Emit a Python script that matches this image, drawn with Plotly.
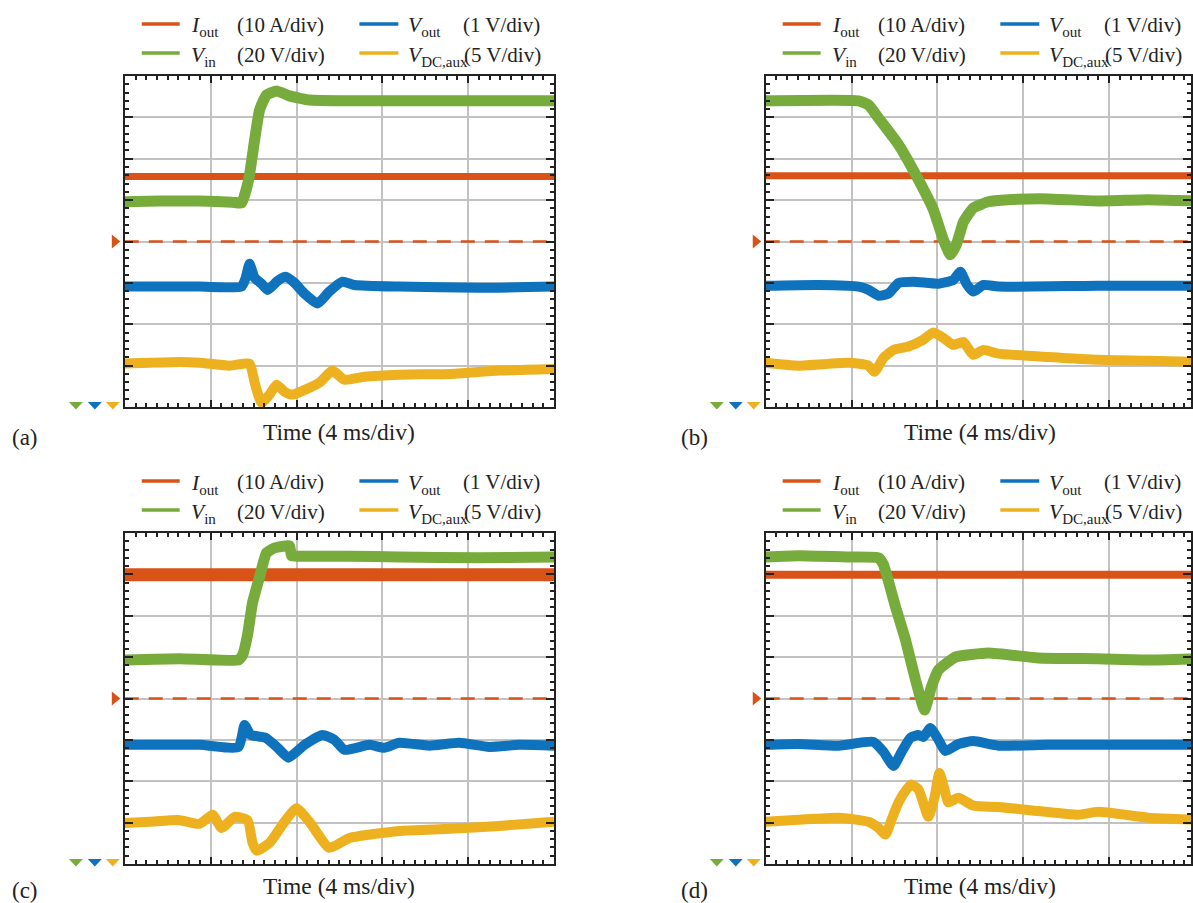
import plotly.graph_objects as go

# ---------------- data (time in ms, amplitude in divisions) ----------------
panels = ["a", "b", "c", "d"]

# Iout (orange) - flat
t_iout = [0, 20]
iout_a = [1.57, 1.57]
iout_b = [1.59, 1.59]
iout_c = [2.99, 2.99]
iout_d = [2.99, 2.99]

# Panel (a)
t_vin_a = [0, 1.6, 3.5, 5.0, 5.44, 5.77, 6.05, 6.28, 6.60, 7.07, 7.67, 8.6, 10.5, 15.1, 20]
vin_a = [0.96, 0.98, 0.98, 0.95, 0.93, 1.49, 2.46, 3.18, 3.54, 3.64, 3.52, 3.42, 3.40, 3.40, 3.40]
t_vout_a = [0, 3.49, 5.44, 5.63, 5.81, 6.05, 6.37, 6.65, 7.12, 7.49, 7.91, 8.37, 8.98, 9.53, 10.14, 10.70, 12.79, 16.51, 20]
vout_a = [-1.09, -1.09, -1.09, -0.88, -0.54, -0.88, -1.02, -1.17, -0.95, -0.85, -1.00, -1.26, -1.50, -1.21, -0.97, -1.05, -1.09, -1.12, -1.09]
t_vdc_a = [0, 1.16, 2.56, 3.49, 4.88, 5.81, 6.05, 6.37, 6.74, 7.07, 7.44, 7.81, 9.07, 9.67, 10.23, 11.16, 12.79, 15.12, 17.44, 20]
vdc_a = [-2.95, -2.93, -2.91, -2.93, -3.00, -2.95, -3.41, -3.90, -3.70, -3.46, -3.63, -3.70, -3.41, -3.12, -3.34, -3.27, -3.22, -3.20, -3.12, -3.08]

# Panel (b)
t_vin_b = [0, 4.33, 4.79, 5.26, 6.19, 7.12, 7.81, 8.28, 8.60, 8.88, 9.21, 9.67, 10.37, 11.30, 13.16, 15.49, 17.81, 20]
vin_b = [3.40, 3.40, 3.30, 2.98, 2.34, 1.49, 0.77, 0.04, -0.32, -0.08, 0.47, 0.81, 0.96, 1.01, 1.03, 0.98, 1.01, 0.98]
t_vout_b = [0, 2.47, 4.33, 4.79, 5.26, 5.72, 6.19, 6.88, 8.05, 8.74, 9.07, 9.35, 9.67, 10.14, 10.84, 15.49, 20]
vout_b = [-1.07, -1.05, -1.09, -1.17, -1.31, -1.26, -1.00, -0.97, -1.02, -0.93, -0.73, -1.02, -1.21, -1.05, -1.09, -1.07, -1.07]
t_vdc_b = [0, 1.53, 3.86, 4.79, 5.07, 5.49, 5.95, 6.65, 7.35, 7.81, 8.28, 8.74, 9.21, 9.67, 10.14, 10.84, 13.16, 15.49, 17.81, 20]
vdc_b = [-2.93, -3.00, -2.93, -3.00, -3.15, -2.81, -2.62, -2.54, -2.37, -2.20, -2.33, -2.50, -2.43, -2.74, -2.62, -2.71, -2.79, -2.86, -2.88, -2.91]

# Panel (c)
t_vin_c = [0, 2.56, 5.30, 5.49, 5.72, 5.95, 6.28, 6.60, 6.98, 7.67, 7.77, 8.14, 10.47, 12.79, 16.51, 20]
vin_c = [0.93, 0.96, 0.93, 1.05, 1.54, 2.31, 2.94, 3.52, 3.64, 3.69, 3.45, 3.44, 3.44, 3.42, 3.40, 3.42]
t_vout_c = [0, 3.49, 5.30, 5.58, 5.86, 6.56, 7.12, 7.63, 8.37, 9.21, 9.77, 10.23, 11.40, 12.09, 12.79, 14.19, 15.58, 16.98, 18.37, 20]
vout_c = [-1.12, -1.12, -1.17, -0.64, -0.88, -0.95, -1.19, -1.43, -1.12, -0.88, -1.00, -1.24, -1.12, -1.19, -1.07, -1.14, -1.07, -1.17, -1.12, -1.14]
t_vdc_c = [0, 1.16, 2.56, 3.49, 4.09, 4.51, 5.12, 5.72, 5.95, 6.14, 6.74, 7.44, 8.00, 8.60, 9.53, 10.47, 12.79, 15.12, 17.44, 20]
vdc_c = [-3.01, -2.98, -2.94, -3.03, -2.81, -3.13, -2.86, -2.94, -3.49, -3.68, -3.49, -2.98, -2.65, -2.98, -3.61, -3.37, -3.20, -3.15, -3.08, -2.98]

# Panel (d)
t_vin_d = [0, 1.53, 3.86, 5.26, 5.49, 6.05, 6.51, 6.98, 7.40, 7.72, 8.05, 8.84, 10.37, 12.70, 15.49, 17.81, 20]
vin_d = [3.42, 3.45, 3.42, 3.40, 3.23, 2.21, 1.42, 0.45, -0.28, 0.28, 0.69, 1.00, 1.10, 0.98, 0.96, 0.93, 0.96]
t_vout_d = [0, 1.53, 3.40, 5.02, 5.49, 5.95, 6.33, 6.74, 7.12, 7.35, 7.67, 8.05, 8.37, 8.98, 9.67, 10.84, 13.16, 15.49, 17.81, 20]
vout_d = [-1.12, -1.10, -1.14, -1.05, -1.29, -1.63, -1.29, -0.95, -0.88, -0.93, -0.71, -1.00, -1.27, -1.10, -1.03, -1.14, -1.12, -1.12, -1.12, -1.12]
t_vdc_d = [0, 1.53, 3.40, 4.79, 5.26, 5.58, 5.86, 6.19, 6.56, 6.79, 7.12, 7.58, 7.86, 8.09, 8.33, 8.51, 8.98, 9.67, 10.84, 12.70, 14.56, 15.49, 17.81, 20]
vdc_d = [-2.98, -2.93, -2.88, -2.98, -3.13, -3.29, -2.93, -2.51, -2.20, -2.08, -2.20, -2.86, -2.40, -1.80, -2.20, -2.51, -2.40, -2.59, -2.62, -2.72, -2.81, -2.74, -2.88, -2.93]

legend_syms = ["<i>I</i><sub>out</sub>", "<i>V</i><sub>out</sub>", "<i>V</i><sub>in</sub>", "<i>V</i><sub>DC,aux</sub>"]
legend_units = ["(10 A/div)", "(1 V/div)", "(20 V/div)", "(5 V/div)"]
panel_labels = ["(a)", "(b)", "(c)", "(d)"]
xlabel = "Time (4 ms/div)"

# ---------------- styling ----------------
C_OR = "#D95319"
C_BL = "#0E72BD"
C_YE = "#EDB120"
C_GR = "#77AC3C"
AX = "#222222"
GRID = "#c2c2c2"
FONT = "Liberation Serif, Times New Roman, serif"

W, H = 1193, 903

def px(x):
    return x / W

def py(y):
    return 1 - y / H

data = {
    "a": (iout_a, (t_vout_a, vout_a), (t_vdc_a, vdc_a), (t_vin_a, vin_a)),
    "b": (iout_b, (t_vout_b, vout_b), (t_vdc_b, vdc_b), (t_vin_b, vin_b)),
    "c": (iout_c, (t_vout_c, vout_c), (t_vdc_c, vdc_c), (t_vin_c, vin_c)),
    "d": (iout_d, (t_vout_d, vout_d), (t_vdc_d, vdc_d), (t_vin_d, vin_d)),
}

# pixel boxes of each panel (left, right, top, bottom)
boxes = {"a": (125, 555, 76, 407), "b": (767, 1193, 76, 407),
         "c": (125, 555, 533, 864), "d": (767, 1193, 533, 864)}
iout_w = {"a": 7, "b": 7, "c": 13, "d": 8}

fig = go.Figure()
layout = {}
shapes = []
annotations = []


def tri_path(pts):
    return "M " + " L ".join(f"{px(x):.5f},{py(y):.5f}" for x, y in pts) + " Z"


for i, p in enumerate(panels):
    k = "" if i == 0 else str(i + 1)
    xa, ya = "x" + k, "y" + k
    l, r, t, b = boxes[p]
    xmax = 20 * (r - l) / 430.0
    iout, (tvo, vo), (tdc, vdc), (tvi, vi) = data[p]

    common = dict(xaxis=xa, yaxis=ya, mode="lines", hoverinfo="skip", showlegend=False)
    fig.add_trace(go.Scatter(x=t_iout, y=[0, 0], line=dict(color=C_OR, width=2.5, dash="14px,10px"), **common))
    fig.add_trace(go.Scatter(x=t_iout, y=iout, line=dict(color=C_OR, width=iout_w[p]), **common))
    fig.add_trace(go.Scatter(x=tvo, y=vo, line=dict(color=C_BL, width=10, shape="spline", smoothing=0.5), **common))
    fig.add_trace(go.Scatter(x=tdc, y=vdc, line=dict(color=C_YE, width=10, shape="spline", smoothing=0.5), **common))
    fig.add_trace(go.Scatter(x=tvi, y=vi, line=dict(color=C_GR, width=11, shape="spline", smoothing=0.4), **common))

    layout["xaxis" + k] = dict(
        domain=[px(l), px(r)], range=[0, xmax], anchor=ya,
        showgrid=True, gridcolor=GRID, gridwidth=2, dtick=4, tick0=0,
        ticks="inside", ticklen=7, tickwidth=2, tickcolor=AX,
        showline=True, linecolor=AX, linewidth=2, mirror="allticks",
        showticklabels=False, zeroline=False,
        minor=dict(dtick=0.5, tick0=0, ticks="inside", ticklen=4, tickwidth=1.5, tickcolor=AX, showgrid=False),
    )
    layout["yaxis" + k] = dict(
        domain=[py(b), py(t)], range=[-4, 4], anchor=xa,
        showgrid=True, gridcolor=GRID, gridwidth=2, dtick=1, tick0=0,
        ticks="inside", ticklen=8, tickwidth=2, tickcolor=AX,
        showline=True, linecolor=AX, linewidth=2, mirror="allticks",
        showticklabels=False, zeroline=False,
        minor=dict(dtick=0.2, tick0=0, ticks="inside", ticklen=4, tickwidth=1.5, tickcolor=AX, showgrid=False),
    )

    # channel markers: Iout zero reference (right-pointing) and ground markers (down)
    yc = (t + b) / 2.0
    shapes.append(dict(type="path", xref="paper", yref="paper", layer="above",
                       path=tri_path([(l - 13, yc - 7), (l - 4.5, yc), (l - 13, yc + 7)]),
                       fillcolor=C_OR, line=dict(width=0)))
    for cx, col in zip([l - 49, l - 30, l - 12], [C_GR, C_BL, C_YE]):
        shapes.append(dict(type="path", xref="paper", yref="paper", layer="above",
                           path=tri_path([(cx - 7, b - 5), (cx + 7, b - 5), (cx, b + 2.5)]),
                           fillcolor=col, line=dict(width=0)))

    # legend (custom)
    dx = l - 125
    dy = t - 76
    rows = [(24 + dy, 27 + dy, 25 + dy), (53 + dy, 56 + dy, 55 + dy)]
    cols = [(142, 180, 189, 327), (360, 399, 407, 543)]
    colors = [[C_OR, C_BL], [C_GR, C_YE]]
    for ri in range(2):
        for ci in range(2):
            yl, ys, yu = rows[ri]
            x0, x1, xs, xu = cols[ci]
            idx = ri * 2 + ci
            shapes.append(dict(type="line", xref="paper", yref="paper",
                               x0=px(x0 + dx), x1=px(x1 + dx), y0=py(yl), y1=py(yl),
                               line=dict(color=colors[ri][ci], width=3.5)))
            annotations.append(dict(text=legend_syms[idx], xref="paper", yref="paper",
                                    x=px(xs + dx), y=py(ys), xanchor="left", yanchor="middle",
                                    showarrow=False, font=dict(family=FONT, size=21.5, color=AX)))
            annotations.append(dict(text=legend_units[idx], xref="paper", yref="paper",
                                    x=px(xu + dx + (1 if ri == 1 else 0)), y=py(yu), xanchor="right", yanchor="middle",
                                    showarrow=False, font=dict(family=FONT, size=21, color=AX)))
    # axis title
    ty = 432 if t < 200 else 886
    annotations.append(dict(text=xlabel, xref="paper", yref="paper", x=px(l + 215), y=py(ty),
                            xanchor="center", yanchor="middle", showarrow=False,
                            font=dict(family=FONT, size=23.5, color=AX)))
    # panel label
    lx = 10 if l < 300 else 680
    ly = 437 if t < 200 else 890
    annotations.append(dict(text=panel_labels[i], xref="paper", yref="paper", x=px(lx), y=py(ly),
                            xanchor="left", yanchor="middle", showarrow=False,
                            font=dict(family=FONT, size=23, color=AX)))

fig.update_layout(
    width=W, height=H, margin=dict(l=0, r=0, t=0, b=0),
    paper_bgcolor="white", plot_bgcolor="white",
    shapes=shapes, annotations=annotations, showlegend=False,
    **layout,
)

fig.write_html("out.html", config={"displayModeBar": False},
               post_script="document.body.style.margin='0px';document.body.style.overflow='hidden';")
